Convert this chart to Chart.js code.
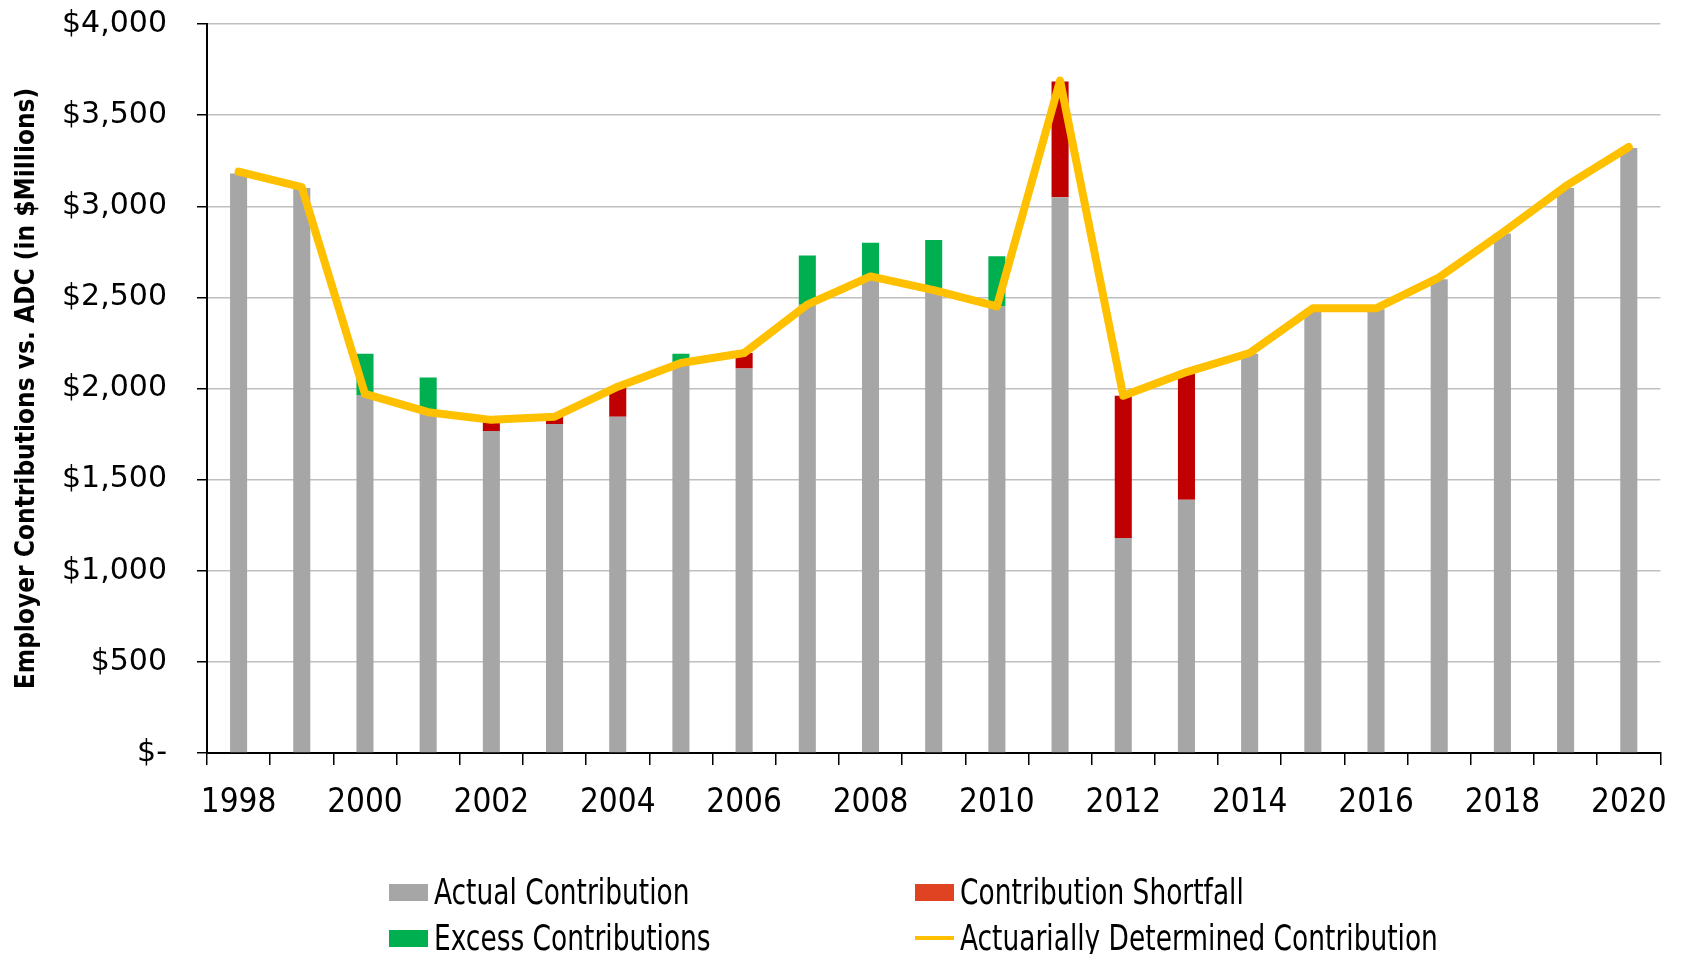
<!DOCTYPE html>
<html>
<head>
<meta charset="utf-8">
<script src="https://cdn.jsdelivr.net/npm/chart.js@4.4.1/dist/chart.umd.min.js"></script>
<style>
  body { margin: 0; background: #fff; }
  #wrap { position: relative; width: 1686px; height: 954px; }
  .item {
    position: absolute; display: flex; align-items: center; white-space: nowrap;
    font-family: 'Liberation Sans Narrow', 'DejaVu Sans Condensed', sans-serif;
    font-size: 35px; color: #000; transform: translateY(-50%);
  }
  .swatch { width: 39px; margin-right: 6px; }
  .txt { display: inline-block; transform: scaleX(0.84); transform-origin: left center; }
</style>
</head>
<body>
<div id="wrap">
  <canvas id="myChart" width="1686" height="954"></canvas>
  <div id="legend"></div>
</div>
<script>
// years on the x axis (only even years get a label)
const years = ['1998', '1999', '2000', '2001', '2002', '2003', '2004', '2005', '2006', '2007', '2008',
  '2009', '2010', '2011', '2012', '2013', '2014', '2015', '2016', '2017', '2018', '2019', '2020'];

// $ millions
const actualContribution = [3180, 3100, 1965, 1870, 1767, 1805, 1845, 2140, 2110, 2460, 2615,
  2540, 2450, 3050, 1180, 1390, 2190, 2435, 2435, 2600, 2850, 3100, 3320];
const contributionShortfall = [0, 0, 0, 0, 60, 40, 165, 0, 85, 0, 0,
  0, 0, 635, 780, 700, 0, 0, 0, 0, 0, 0, 0];
const excessContributions = [0, 0, 225, 190, 0, 0, 0, 50, 0, 270, 185,
  275, 275, 0, 0, 0, 0, 0, 0, 0, 0, 0, 0];
const adcValues = [3190, 3105, 1970, 1870, 1828, 1845, 2010, 2140, 2195, 2460, 2615,
  2540, 2450, 3690, 1960, 2090, 2195, 2440, 2440, 2610, 2855, 3110, 3325];

const yMax = 4000;
const yStep = 500;

const ctx = document.getElementById('myChart').getContext('2d');
const myChart = new Chart(ctx, {
  type: 'bar',
  data: {
    labels: years,
    datasets: [
      {
        label: 'Actual Contribution',
        data: actualContribution,
        backgroundColor: '#A6A6A6',
        legendColor: '#A6A6A6',
        stack: 'bars',
        order: 1
      },
      {
        label: 'Contribution Shortfall',
        data: contributionShortfall,
        backgroundColor: '#C00000',
        legendColor: '#E04322',
        stack: 'bars',
        order: 1
      },
      {
        label: 'Excess Contributions',
        data: excessContributions,
        backgroundColor: '#00B050',
        legendColor: '#00B050',
        stack: 'bars',
        order: 1
      },
      {
        type: 'line',
        label: 'Actuarially Determined Contribution',
        data: adcValues,
        borderColor: '#FFC000',
        legendColor: '#FFC000',
        borderWidth: 8,
        borderCapStyle: 'round',
        borderJoinStyle: 'round',
        pointRadius: 0,
        tension: 0,
        fill: false,
        stack: 'adc',
        order: 0
      }
    ]
  },
  options: {
    responsive: false,
    animation: false,
    datasets: {
      bar: { barPercentage: 0.27, categoryPercentage: 1 }
    },
    layout: { padding: { top: 24, right: 20, bottom: 0, left: 0 } },
    plugins: {
      legend: { display: false },
      tooltip: { enabled: false }
    },
    scales: {
      x: {
        stacked: true,
        grid: {
          display: true,
          drawOnChartArea: false,
          offset: true,
          color: '#000',
          tickColor: '#000',
          tickLength: 12,
          lineWidth: 1.5
        },
        border: { color: '#000', width: 2 },
        ticks: {
          autoSkip: false,
          maxRotation: 0,
          padding: 19,
          color: '#000',
          font: { family: "'DejaVu Sans Condensed'", size: 33 },
          callback: function (value, index) {
            const y = years[index];
            return Number(y) % 2 === 0 ? y : '';
          }
        },
        afterFit: function (scale) { scale.height = 201; }
      },
      y: {
        stacked: true,
        min: 0,
        max: yMax,
        grid: {
          color: '#BFBFBF',
          lineWidth: 1.5,
          tickColor: '#000',
          tickLength: 10
        },
        border: { color: '#000', width: 2 },
        ticks: {
          stepSize: yStep,
          padding: 30,
          color: '#000',
          font: { family: "'DejaVu Sans'", size: 30 },
          callback: function (v) {
            return v === 0 ? '$-' : '$' + v.toLocaleString('en-US');
          }
        },
        title: {
          display: true,
          text: 'Employer Contributions vs. ADC (in $Millions)',
          color: '#000',
          padding: { top: 12, bottom: 0 },
          font: { family: "'DejaVu Sans Condensed'", size: 26, weight: 'bold' }
        },
        afterFit: function (scale) {
          scale.width = 207;
          scale.paddingTop = 0;
          scale.paddingBottom = 0;
        }
      }
    }
  }
});

// legend laid out as a 2x2 grid under the chart, like the original
const legendSpots = [[389, 892], [915, 892], [389, 938], [915, 938]];
const legendEl = document.getElementById('legend');
myChart.data.datasets.forEach(function (ds, i) {
  const item = document.createElement('div');
  item.className = 'item';
  item.style.left = legendSpots[i][0] + 'px';
  item.style.top = legendSpots[i][1] + 'px';
  const sw = document.createElement('span');
  sw.className = 'swatch';
  sw.style.background = ds.legendColor;
  sw.style.height = ds.type === 'line' ? '4px' : '17px';
  const txt = document.createElement('span');
  txt.className = 'txt';
  txt.textContent = ds.label;
  item.appendChild(sw);
  item.appendChild(txt);
  legendEl.appendChild(item);
});
</script>
</body>
</html>
